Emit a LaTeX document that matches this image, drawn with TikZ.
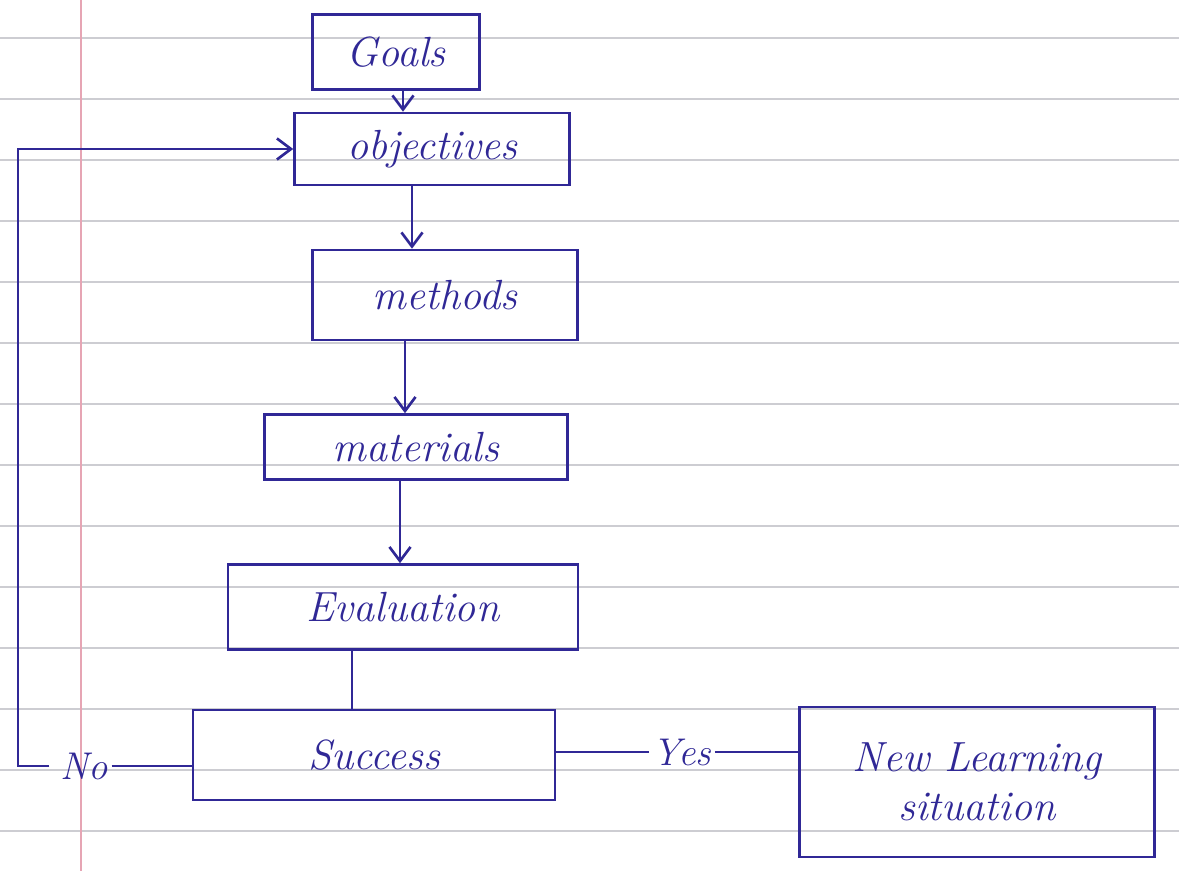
\documentclass[tikz,border=0pt]{standalone}
\usetikzlibrary{arrows.meta,calc}
\definecolor{ink}{RGB}{48,40,150}
\definecolor{rule}{RGB}{205,205,210}
\definecolor{margin}{RGB}{230,165,180}
\begin{document}
\begin{tikzpicture}[x=0.02cm,y=-0.02cm,
  box/.style={draw=ink,line width=1.5pt,text=ink,inner sep=0pt,font=\fontsize{24}{28}\selectfont\itshape},
  lbl/.style={text=ink,inner sep=2pt,font=\fontsize{22}{26}\selectfont\itshape},
  link/.style={draw=ink,line width=1.5pt},
  arr/.style={link,-{Straight Barb[length=8pt,width=12pt]}}]
\fill[white] (0,0) rectangle (1179,871);
\useasboundingbox (0,0) rectangle (1179,871);
\foreach \yy in {38,99,160,221,282,343,404,465,526,587,648,709,770,831}
  \draw[rule,line width=0.6pt] (0,\yy) -- (1179,\yy);
\draw[margin,line width=0.6pt] (81,0) -- (81,871);
\node[box,minimum width=3.34cm,minimum height=1.5cm] (goals) at (396,52) {Goals};
\node[box,minimum width=5.5cm,minimum height=1.44cm] (obj) at (432,149) {objectives};
\node[box,minimum width=5.3cm,minimum height=1.8cm] (meth) at (445,295) {methods};
\node[box,minimum width=6.06cm,minimum height=1.3cm] (mat) at (416,447) {materials};
\node[box,minimum width=7.0cm,minimum height=1.7cm] (eval) at (403,607) {Evaluation};
\node[box,minimum width=7.24cm,minimum height=1.8cm] (succ) at (374,755) {Success};
\node[box,minimum width=7.1cm,minimum height=3.0cm,align=center] (newl) at (977,782) {New Learning\\situation};
\node[lbl] (no) at (84,766) {No};
\node[lbl] (yes) at (682,752) {Yes};
\coordinate (corner) at (18,766);
\coordinate (c1) at (403,0);
\coordinate (c2) at (412,0);
\coordinate (c3) at (405,0);
\coordinate (c4) at (400,0);
\coordinate (c5) at (352,0);
\draw[arr] (goals.south -| c1) -- (obj.north -| c1);
\draw[arr] (obj.south -| c2) -- (meth.north -| c2);
\draw[arr] (meth.south -| c3) -- (mat.north -| c3);
\draw[arr] (mat.south -| c4) -- (eval.north -| c4);
\draw[link] (eval.south -| c5) -- (succ.north -| c5);
\draw[link] (no.east) -- (no.east -| succ.west);
\draw[arr] ([xshift=-4pt]no.west) -- (corner) |- (obj.west);
\draw[link] (yes.west) -- (yes.west -| succ.east);
\draw[link] (yes.east) -- (yes.east -| newl.west);
\end{tikzpicture}
\end{document}
